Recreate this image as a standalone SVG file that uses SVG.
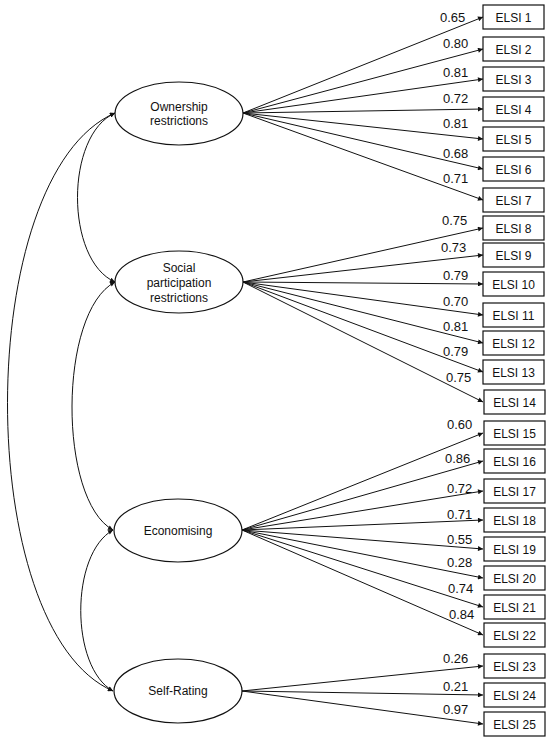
<svg xmlns="http://www.w3.org/2000/svg" width="550" height="742" viewBox="0 0 550 742">
<style>
text{font-family:"Liberation Sans",Arial,sans-serif;fill:#111}
.lat ellipse{fill:#fff;stroke:#111;stroke-width:1.2}
.lat text{font-size:12px;text-anchor:middle}
.obs rect{fill:#fff;stroke:#111;stroke-width:1.2}
.obs text{font-size:12px;text-anchor:middle}
.ld{fill:none;stroke:#111;stroke-width:1;marker-end:url(#ah)}
.cv{fill:none;stroke:#111;stroke-width:1;marker-start:url(#ah);marker-end:url(#ah)}
.lbl{font-size:13px}
</style>
<defs>
<marker id="ah" viewBox="0 0 10 10" refX="10" refY="5" markerWidth="6" markerHeight="5" orient="auto-start-reverse" markerUnits="userSpaceOnUse">
<path d="M0,0 L10,5 L0,10 z" fill="#111"/>
</marker>
</defs>
<g id="connectors">
<path class="cv" d="M115,113 C65,135 65,260 115,282"/>
<path class="cv" d="M115,113 C-28,175 -28,630 113,691"/>
<path class="cv" d="M115,282 C58,312 58,500 113,530"/>
<path class="cv" d="M113,530 C70,554 70,667 113,691"/>
<path class="ld" d="M243,113 L483,17"/>
<path class="ld" d="M243,113 L483,49"/>
<path class="ld" d="M243,113 L483,79"/>
<path class="ld" d="M243,113 L483,109"/>
<path class="ld" d="M243,113 L483,139"/>
<path class="ld" d="M243,113 L483,169"/>
<path class="ld" d="M243,113 L483,200"/>
<path class="ld" d="M243,282 L483,228"/>
<path class="ld" d="M243,282 L483,255"/>
<path class="ld" d="M243,282 L483,284"/>
<path class="ld" d="M243,282 L483,315"/>
<path class="ld" d="M243,282 L483,343"/>
<path class="ld" d="M243,282 L483,372"/>
<path class="ld" d="M243,282 L483,402"/>
<path class="ld" d="M242,530 L483,433"/>
<path class="ld" d="M242,530 L483,461"/>
<path class="ld" d="M242,530 L483,491"/>
<path class="ld" d="M242,530 L483,520"/>
<path class="ld" d="M242,530 L483,549"/>
<path class="ld" d="M242,530 L483,578"/>
<path class="ld" d="M242,530 L483,607"/>
<path class="ld" d="M242,530 L483,635"/>
<path class="ld" d="M242,691 L483,666"/>
<path class="ld" d="M242,691 L483,695"/>
<path class="ld" d="M242,691 L483,724"/>
</g>
<g id="loadings" class="lbl">
<text x="440" y="22">0.65</text>
<text x="443" y="48">0.80</text>
<text x="443" y="77">0.81</text>
<text x="443" y="103">0.72</text>
<text x="443" y="128">0.81</text>
<text x="443" y="158">0.68</text>
<text x="443" y="183">0.71</text>
<text x="442" y="225">0.75</text>
<text x="441" y="252">0.73</text>
<text x="443" y="280">0.79</text>
<text x="443" y="306">0.70</text>
<text x="443" y="331">0.81</text>
<text x="443" y="356">0.79</text>
<text x="446" y="382">0.75</text>
<text x="447" y="429">0.60</text>
<text x="445" y="463">0.86</text>
<text x="447" y="493">0.72</text>
<text x="447" y="519">0.71</text>
<text x="447" y="544">0.55</text>
<text x="447" y="567">0.28</text>
<text x="448" y="593">0.74</text>
<text x="449" y="619">0.84</text>
<text x="443" y="663">0.26</text>
<text x="443" y="691">0.21</text>
<text x="443" y="714">0.97</text>
</g>
<g id="ownership" class="lat"><ellipse cx="179" cy="113.5" rx="64" ry="31.5"/><text x="179" y="110.5">Ownership</text><text x="179" y="125">restrictions</text></g>
<g id="social" class="lat"><ellipse cx="179" cy="282" rx="64" ry="31"/><text x="179" y="272">Social</text><text x="179" y="287">participation</text><text x="179" y="302">restrictions</text></g>
<g id="economising" class="lat"><ellipse cx="178" cy="530.5" rx="64" ry="31.5"/><text x="178" y="535">Economising</text></g>
<g id="selfrating" class="lat"><ellipse cx="178" cy="691" rx="64" ry="32"/><text x="178" y="695">Self-Rating</text></g>
<g id="elsi1" class="obs"><rect x="483" y="5" width="61" height="24"/><text x="513.5" y="21.5">ELSI 1</text></g>
<g id="elsi2" class="obs"><rect x="483" y="37" width="61" height="24"/><text x="513.5" y="53.5">ELSI 2</text></g>
<g id="elsi3" class="obs"><rect x="483" y="67" width="61" height="24"/><text x="513.5" y="83.5">ELSI 3</text></g>
<g id="elsi4" class="obs"><rect x="483" y="97" width="61" height="24"/><text x="513.5" y="113.5">ELSI 4</text></g>
<g id="elsi5" class="obs"><rect x="483" y="127" width="61" height="24"/><text x="513.5" y="143.5">ELSI 5</text></g>
<g id="elsi6" class="obs"><rect x="483" y="157" width="61" height="24"/><text x="513.5" y="173.5">ELSI 6</text></g>
<g id="elsi7" class="obs"><rect x="483" y="188" width="61" height="24"/><text x="513.5" y="204.5">ELSI 7</text></g>
<g id="elsi8" class="obs"><rect x="483" y="216" width="61" height="24"/><text x="513.5" y="232.5">ELSI 8</text></g>
<g id="elsi9" class="obs"><rect x="483" y="243" width="61" height="24"/><text x="513.5" y="259.5">ELSI 9</text></g>
<g id="elsi10" class="obs"><rect x="483" y="272" width="61" height="24"/><text x="513.5" y="288.5">ELSI 10</text></g>
<g id="elsi11" class="obs"><rect x="483" y="303" width="61" height="24"/><text x="513.5" y="319.5">ELSI 11</text></g>
<g id="elsi12" class="obs"><rect x="483" y="331" width="61" height="24"/><text x="513.5" y="347.5">ELSI 12</text></g>
<g id="elsi13" class="obs"><rect x="483" y="360" width="61" height="24"/><text x="513.5" y="376.5">ELSI 13</text></g>
<g id="elsi14" class="obs"><rect x="484" y="390" width="61" height="24"/><text x="514.5" y="406.5">ELSI 14</text></g>
<g id="elsi15" class="obs"><rect x="484" y="421" width="61" height="24"/><text x="514.5" y="437.5">ELSI 15</text></g>
<g id="elsi16" class="obs"><rect x="484" y="449" width="61" height="24"/><text x="514.5" y="465.5">ELSI 16</text></g>
<g id="elsi17" class="obs"><rect x="484" y="479" width="61" height="24"/><text x="514.5" y="495.5">ELSI 17</text></g>
<g id="elsi18" class="obs"><rect x="484" y="508" width="61" height="24"/><text x="514.5" y="524.5">ELSI 18</text></g>
<g id="elsi19" class="obs"><rect x="484" y="537" width="61" height="24"/><text x="514.5" y="553.5">ELSI 19</text></g>
<g id="elsi20" class="obs"><rect x="484" y="566" width="61" height="24"/><text x="514.5" y="582.5">ELSI 20</text></g>
<g id="elsi21" class="obs"><rect x="484" y="595" width="61" height="24"/><text x="514.5" y="611.5">ELSI 21</text></g>
<g id="elsi22" class="obs"><rect x="484" y="623" width="61" height="24"/><text x="514.5" y="639.5">ELSI 22</text></g>
<g id="elsi23" class="obs"><rect x="484" y="654" width="61" height="24"/><text x="514.5" y="670.5">ELSI 23</text></g>
<g id="elsi24" class="obs"><rect x="484" y="683" width="61" height="24"/><text x="514.5" y="699.5">ELSI 24</text></g>
<g id="elsi25" class="obs"><rect x="484" y="712" width="61" height="24"/><text x="514.5" y="728.5">ELSI 25</text></g>
</svg>
